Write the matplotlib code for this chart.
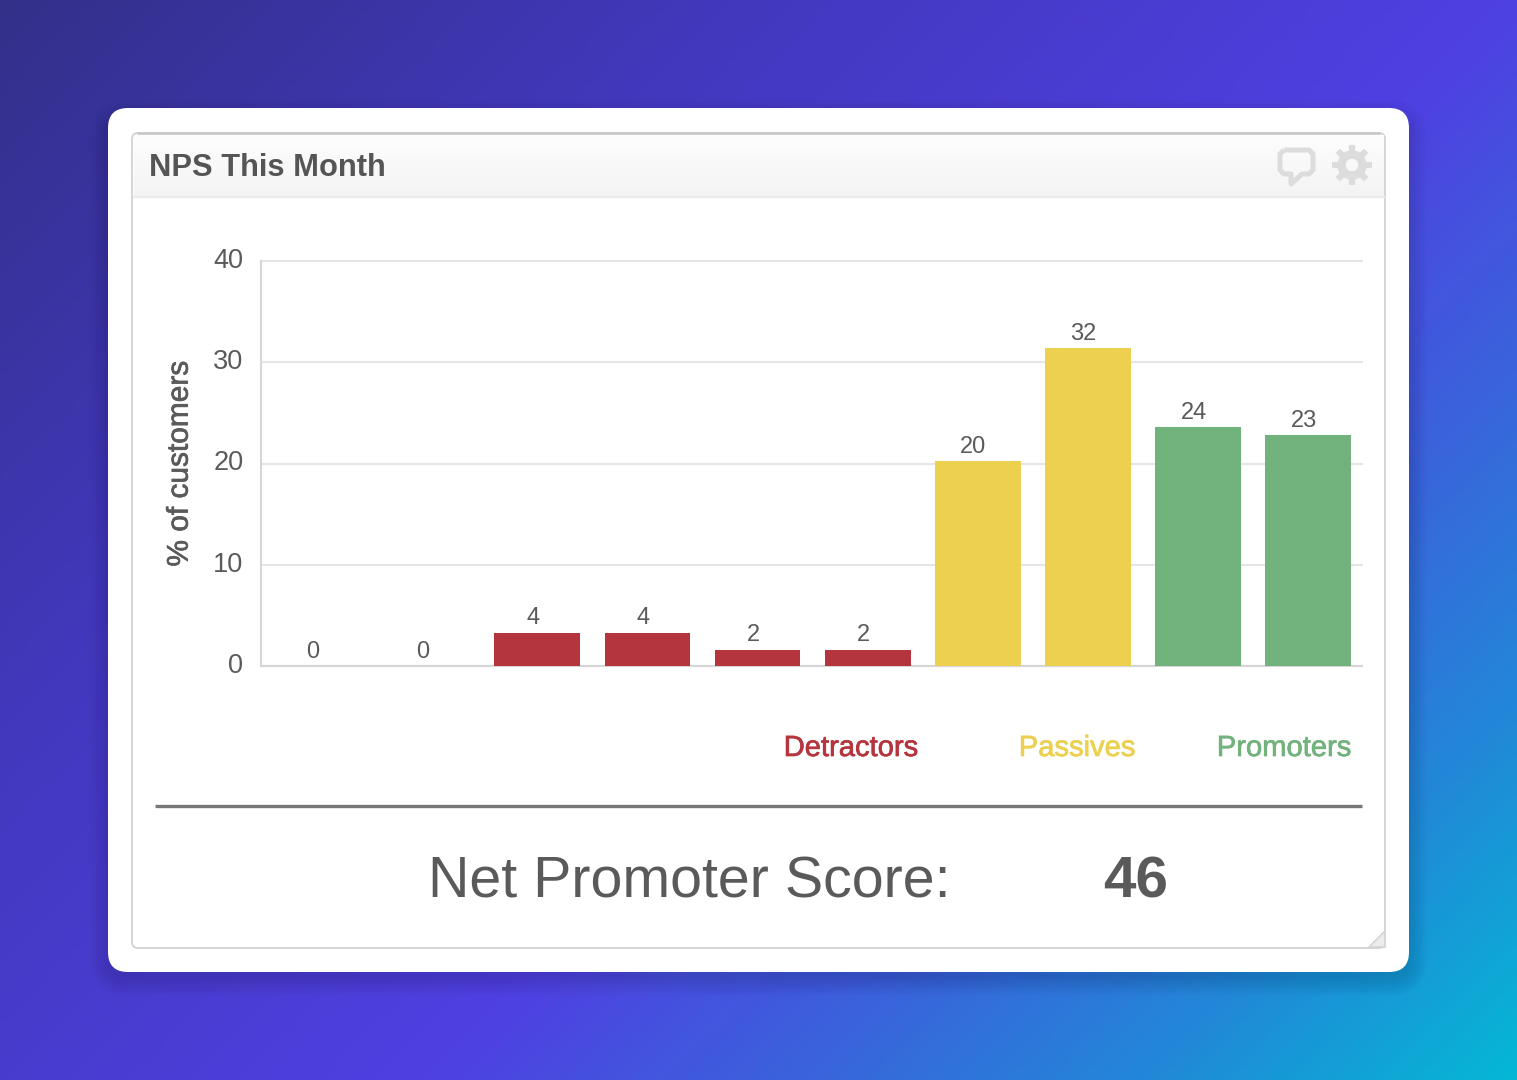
import numpy as np
import matplotlib
matplotlib.use('Agg')
import matplotlib.pyplot as plt
import matplotlib.patheffects as pe
from matplotlib.colors import LinearSegmentedColormap
from matplotlib.patches import FancyBboxPatch, Polygon, Circle
from matplotlib.path import Path
from matplotlib.patches import PathPatch

W, H = 1517, 1080

title = 'NPS This Month'
y_label = '% of customers'
y_ticks = [0, 10, 20, 30, 40]
scores = list(range(10))
heights = [0, 0, 3.3, 3.3, 1.6, 1.6, 20.2, 31.4, 23.6, 22.8]
value_labels = ['0', '0', '4', '4', '2', '2', '20', '32', '24', '23']
bar_colors = ['#b5353f'] * 6 + ['#edd04f'] * 2 + ['#72b27c'] * 2
groups = ['Detractors', 'Passives', 'Promoters']
group_colors = ['#b5353f', '#edd04f', '#72b27c']
score_text = 'Net Promoter Score:'
score_value = '46'

plt.rcParams['font.family'] = ['Liberation Sans', 'DejaVu Sans']
TEXT = '#5a5a5a'


def px_axes(fig, x0, y0, x1, y1):
    # pixel box measured from the top left of the picture
    return fig.add_axes([x0 / W, 1 - y1 / H, (x1 - x0) / W, (y1 - y0) / H])


def rounded(ax, x0, y0, x1, y1, r, **kw):
    p = FancyBboxPatch((x0 + r, y0 + r), x1 - x0 - 2 * r, y1 - y0 - 2 * r,
                       boxstyle='round,pad=%f,rounding_size=%f' % (r, r), **kw)
    ax.add_patch(p)
    return p


def thicken(txt, col, w=0.35):
    # the reference text is a bit heavier than the regular weight
    txt.set_path_effects([pe.withStroke(linewidth=w, foreground=col)])


fig = plt.figure(figsize=(W / 100, H / 100), dpi=100)

# page background and card, in pixel coordinates
bg = fig.add_axes([0, 0, 1, 1])
bg.axis('off')

cmap = LinearSegmentedColormap.from_list(
    'bg', [(0, '#33308a'), (0.28, '#4238bd'), (0.58, '#4f40e2'),
           (0.72, '#3b62dc'), (0.86, '#2288d8'), (1, '#05b7d5')])
xx, yy = np.meshgrid(np.linspace(0, W, 400), np.linspace(0, H, 300))
grad = (xx + yy) / (W + H)
bg.imshow(grad, cmap=cmap, vmin=0, vmax=1, extent=(0, W, H, 0), aspect='auto', zorder=0)

# soft shadow below the card
for i in range(10):
    grow = 18 - i * 2
    rounded(bg, 108 - grow, 118 - grow, 1409 + grow, 978 + grow, 20 + grow,
            fc='#101040', ec='none', alpha=0.014, zorder=1)

rounded(bg, 108, 108, 1409, 972, 20, fc='white', ec='none', zorder=2)

# widget frame and header
rounded(bg, 132, 133, 1385, 948, 6, fc='white', ec='#d2d2d2', lw=1.3, zorder=3)
bg.imshow(np.linspace(0, 1, 50).reshape(-1, 1),
          cmap=LinearSegmentedColormap.from_list('head', ['#fdfdfd', '#f4f4f4']),
          extent=(134, 1384, 196, 135), aspect='auto', zorder=3.1)
bg.set_xlim(0, W)
bg.set_ylim(H, 0)
bg.plot([133, 1385], [196.5, 196.5], color='#ececec', lw=1.6, zorder=3.2, solid_capstyle='butt')
bg.plot([137, 1380], [133, 133], color='#c9c9c9', lw=2.0, zorder=3.2, solid_capstyle='butt')
bg.text(149, 168, title, fontsize=22.2, fontweight='bold', color='#555555',
        va='center', ha='left', zorder=4)

# speech bubble icon
bubble = Path([(1284, 150), (1309, 150), (1313, 154), (1313, 170), (1309, 174),
               (1302, 174), (1291, 184), (1291, 174), (1284, 174), (1280, 170),
               (1280, 154), (1284, 150)])
bg.add_patch(PathPatch(bubble, fc='none', ec='#dcdcdc', lw=3.6, joinstyle='round', zorder=4))

# gear icon
angles = np.deg2rad(np.arange(0, 360, 45))
for a in angles:
    bg.plot([1352 + 10 * np.cos(a), 1352 + 20 * np.cos(a)],
            [165 + 10 * np.sin(a), 165 + 20 * np.sin(a)],
            color='#dcdcdc', lw=4.5, solid_capstyle='butt', zorder=4)
bg.add_patch(Circle((1352, 165), 10.5, fc='none', ec='#dcdcdc', lw=6, zorder=4))

# resize grip
bg.add_patch(Polygon([(1369, 947), (1385, 931), (1385, 947)], fc='#ececec',
                     ec='#d4d4d4', lw=1.2, zorder=4))

# bar chart
ax = px_axes(fig, 261, 261, 1362, 666)
ax.patch.set_alpha(0)
ax.bar(scores, heights, width=0.78, color=bar_colors, zorder=3)
ax.set_xlim(-0.51, 9.49)
ax.set_ylim(0, 40)
ax.set_yticks(y_ticks)
ax.set_xticks([])
ax.grid(axis='y', color='#e6e6e6', lw=1.5, zorder=0, clip_on=False)
ax.set_axisbelow(True)
for s in ['top', 'right']:
    ax.spines[s].set_visible(False)
for s in ['left', 'bottom']:
    ax.spines[s].set_color('#d6d6d6')
    ax.spines[s].set_linewidth(1.5)
ax.tick_params(axis='y', length=0, pad=12.7, labelsize=19.5, labelcolor=TEXT)
for lab in ax.get_yticklabels():
    lab.set_verticalalignment('center')
yl = ax.set_ylabel(y_label, fontsize=21.5, color=TEXT, labelpad=14)
thicken(yl, TEXT, 0.5)
for x, h, lab in zip(scores, heights, value_labels):
    ax.annotate(lab, (x, h), xytext=(-3.2, 2.5), textcoords='offset points', ha='center',
                va='bottom', fontsize=17, color=TEXT)

# group captions
for name, col, x in zip(groups, group_colors, [851, 1077, 1284]):
    t = bg.text(x, 748, name, color=col, fontsize=21, ha='center', va='center', zorder=4)
    thicken(t, col, 0.5)

# score row
bg.plot([155, 1362], [805.5, 805.5], color='#777777', lw=2.4, zorder=4, solid_capstyle='butt')
bg.text(689, 883, score_text, color=TEXT, fontsize=41.3, ha='center', va='center', zorder=4)
bg.text(1136, 883, score_value, color=TEXT, fontsize=42, fontweight='bold',
        ha='center', va='center', zorder=4)

fig.savefig('out.png', dpi=100)
